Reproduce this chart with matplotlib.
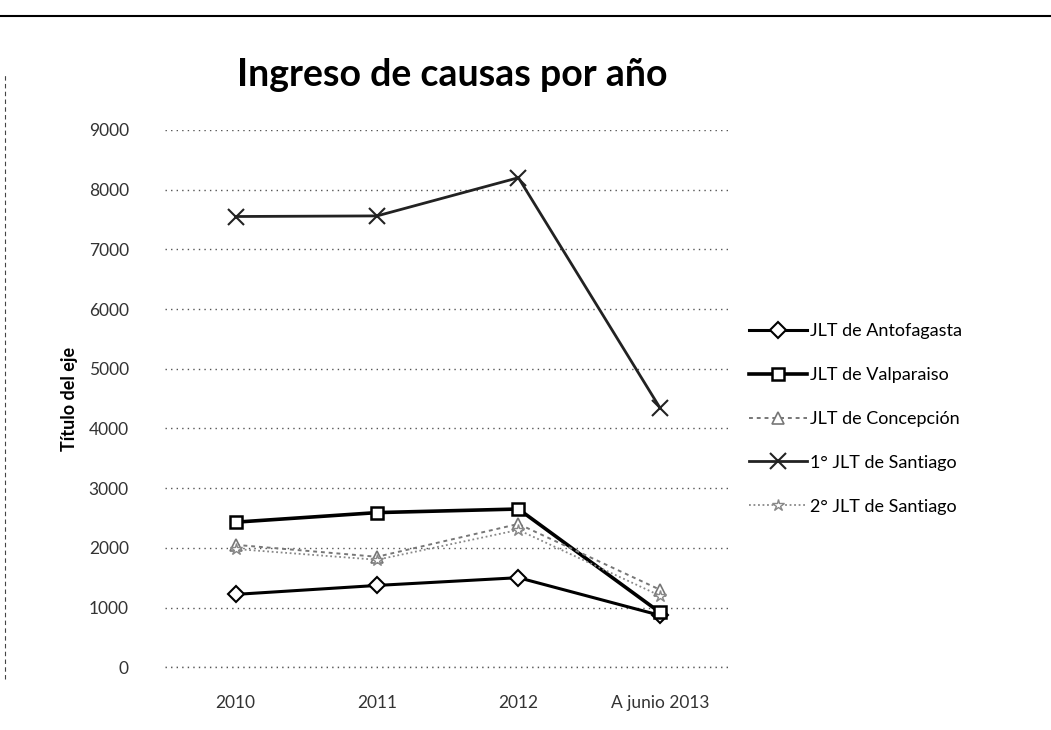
import matplotlib.pyplot as plt
from matplotlib.lines import Line2D

plt.rcParams['font.family'] = ['Lato', 'DejaVu Sans']

anios = ['2010', '2011', '2012', 'A junio 2013']
antofagasta = [1220, 1370, 1500, 870]
valparaiso = [2430, 2590, 2650, 920]
concepcion = [2050, 1850, 2400, 1300]
santiago1 = [7550, 7560, 8200, 4350]
santiago2 = [1980, 1800, 2300, 1200]

series = [
    ('JLT de Antofagasta', antofagasta, dict(color='black', lw=2.2, marker='D', ms=8, mfc='white', mew=1.5)),
    ('JLT de Valparaiso', valparaiso, dict(color='black', lw=2.6, marker='s', ms=9, mfc='white', mew=1.8)),
    ('JLT de Concepción', concepcion, dict(color='#777777', lw=1.4, ls=(0, (2, 2)), marker='^', ms=8, mfc='white', mew=1.2)),
    ('1° JLT de Santiago', santiago1, dict(color='#222222', lw=2.0, marker='x', ms=11, mew=1.5)),
    ('2° JLT de Santiago', santiago2, dict(color='#888888', lw=1.3, ls=(0, (1, 1.5)), marker='*', ms=9, mfc='white', mew=1.0)),
]

fig = plt.figure(figsize=(10.51, 7.30), dpi=100)
ax = fig.add_axes([0.157, 0.086, 0.538, 0.736])

x = range(len(anios))
for nombre, valores, estilo in series:
    ax.plot(x, valores, label=nombre, **estilo)

ax.set_xlim(-0.5, len(anios) - 0.5)
ax.set_ylim(0, 9000)
ax.set_yticks(range(0, 9001, 1000))
ax.set_xticks(list(x))
ax.set_xticklabels(anios)
ax.grid(axis='y', color='#555555', ls=(0, (1, 3)), lw=1.0)
ax.axhline(0, color='#555555', ls=(0, (1, 3)), lw=1.0, clip_on=False, zorder=0)
ax.set_axisbelow(True)
for s in ax.spines.values():
    s.set_visible(False)
ax.tick_params(length=0, labelsize=12.5, colors='#333333')
ax.tick_params(axis='x', pad=20)
ax.tick_params(axis='y', pad=26)

ax.set_ylabel('Título del eje', fontsize=13, fontweight='bold', labelpad=8)
fig.suptitle('Ingreso de causas por año', fontsize=27, fontweight='bold', x=0.43, y=0.92)

ax.legend(loc='upper left', bbox_to_anchor=(0.697, 0.58), bbox_transform=fig.transFigure,
          frameon=False, fontsize=13, labelspacing=1.55, handlelength=3.2, handletextpad=0.2)

# bordes del recuadro escaneado
fig.add_artist(Line2D([0.0, 1.0], [0.978, 0.978], transform=fig.transFigure, color='black', lw=1.5))
fig.add_artist(Line2D([0.005, 0.005], [0.07, 0.9], transform=fig.transFigure, color='#444444', lw=0.8, ls=(0, (4, 3))))

fig.savefig('out.png', dpi=100)
